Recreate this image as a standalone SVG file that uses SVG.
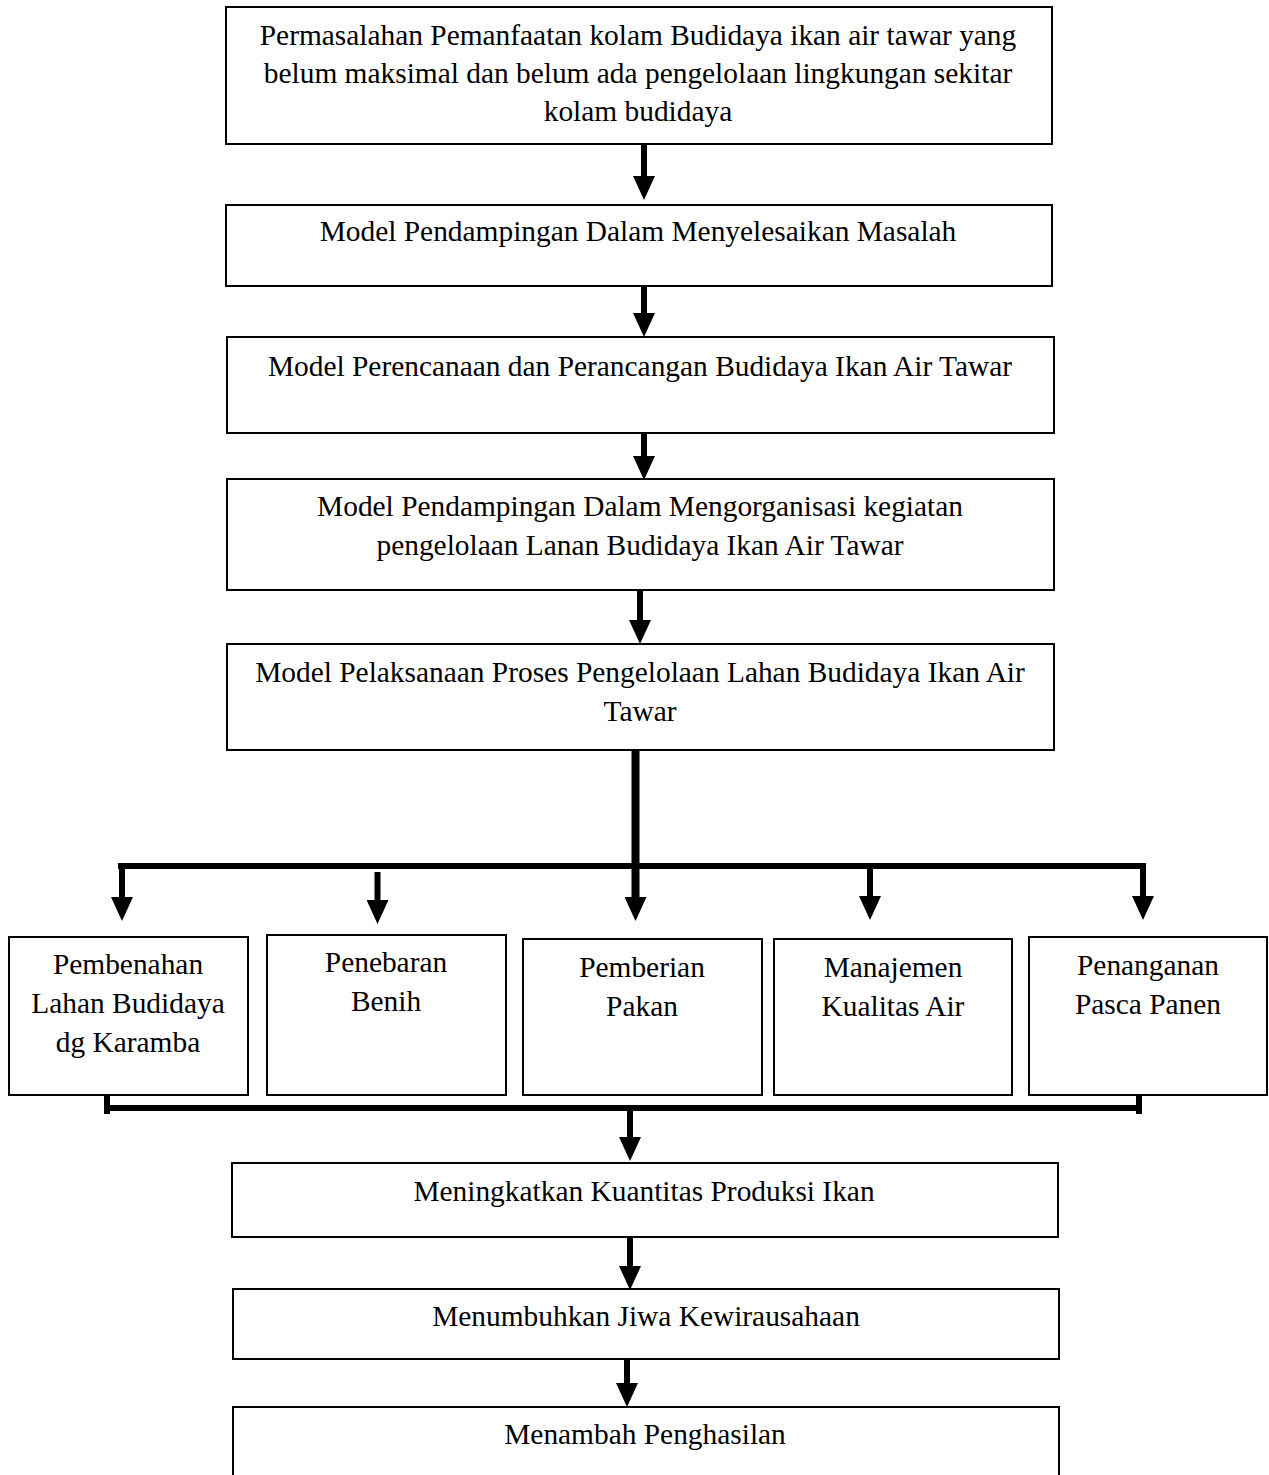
<svg xmlns="http://www.w3.org/2000/svg" width="1269" height="1475" viewBox="0 0 1269 1475">
<style>
.box{fill:#fff;stroke:#000;stroke-width:2}
.t{font-family:"Liberation Serif","Times New Roman",serif;font-size:29.4px;fill:#000;text-anchor:middle}
.c{stroke:#000;stroke-width:6;fill:none}
</style>
<defs>
<marker id="ah" viewBox="0 0 24 22" markerWidth="24" markerHeight="22" refX="0" refY="11" orient="auto" markerUnits="userSpaceOnUse">
<path d="M0,0 L24,11 L0,22 Z" fill="#000"/>
</marker>
</defs>
<rect width="1269" height="1475" fill="#fff"/>
<g id="connectors">
<line class="c" x1="644" y1="144" x2="644" y2="176" marker-end="url(#ah)"/>
<line class="c" x1="644" y1="286" x2="644" y2="313" marker-end="url(#ah)"/>
<line class="c" x1="644" y1="433" x2="644" y2="456" marker-end="url(#ah)"/>
<line class="c" x1="640" y1="590" x2="640" y2="620" marker-end="url(#ah)"/>
<line class="c" x1="635.5" y1="750" x2="635.5" y2="897" marker-end="url(#ah)" style="stroke-width:8"/>
<line class="c" x1="118" y1="866" x2="1146" y2="866"/>
<line class="c" x1="122" y1="866" x2="122" y2="897" marker-end="url(#ah)"/>
<line class="c" x1="377.5" y1="872" x2="377.5" y2="900" marker-end="url(#ah)"/>
<line class="c" x1="870" y1="866" x2="870" y2="896" marker-end="url(#ah)"/>
<line class="c" x1="1143" y1="866" x2="1143" y2="896" marker-end="url(#ah)"/>
<line class="c" x1="107" y1="1095" x2="107" y2="1114"/>
<line class="c" x1="1139" y1="1095" x2="1139" y2="1114"/>
<line class="c" x1="104" y1="1108" x2="1142" y2="1108"/>
<line class="c" x1="630" y1="1108" x2="630" y2="1137" marker-end="url(#ah)"/>
<line class="c" x1="630" y1="1237" x2="630" y2="1266" marker-end="url(#ah)"/>
<line class="c" x1="627" y1="1356" x2="627" y2="1383" marker-end="url(#ah)"/>
</g>
<g id="n1"><rect class="box" x="226" y="7" width="826" height="137"/>
<text class="t" x="638" y="45">Permasalahan Pemanfaatan kolam Budidaya ikan air tawar yang</text>
<text class="t" x="638" y="83">belum maksimal dan belum ada pengelolaan lingkungan sekitar</text>
<text class="t" x="638" y="121">kolam budidaya</text></g>
<g id="n2"><rect class="box" x="226" y="205" width="826" height="81"/>
<text class="t" x="638" y="241">Model Pendampingan Dalam Menyelesaikan Masalah</text></g>
<g id="n3"><rect class="box" x="227" y="337" width="827" height="96"/>
<text class="t" x="640" y="376">Model Perencanaan dan Perancangan Budidaya Ikan Air Tawar</text></g>
<g id="n4"><rect class="box" x="227" y="479" width="827" height="111"/>
<text class="t" x="640" y="516">Model Pendampingan Dalam Mengorganisasi kegiatan</text>
<text class="t" x="640" y="555">pengelolaan Lanan Budidaya Ikan Air Tawar</text></g>
<g id="n5"><rect class="box" x="227" y="644" width="827" height="106"/>
<text class="t" x="640" y="682">Model Pelaksanaan Proses Pengelolaan Lahan Budidaya Ikan Air</text>
<text class="t" x="640" y="721">Tawar</text></g>
<g id="nA"><rect class="box" x="9" y="937" width="239" height="158"/>
<text class="t" x="128" y="974">Pembenahan</text>
<text class="t" x="128" y="1013">Lahan Budidaya</text>
<text class="t" x="128" y="1052">dg Karamba</text></g>
<g id="nB"><rect class="box" x="267" y="935" width="239" height="160"/>
<text class="t" x="386" y="972">Penebaran</text>
<text class="t" x="386" y="1011">Benih</text></g>
<g id="nC"><rect class="box" x="523" y="939" width="239" height="156"/>
<text class="t" x="642" y="977">Pemberian</text>
<text class="t" x="642" y="1016">Pakan</text></g>
<g id="nD"><rect class="box" x="774" y="939" width="238" height="156"/>
<text class="t" x="893" y="977">Manajemen</text>
<text class="t" x="893" y="1016">Kualitas Air</text></g>
<g id="nE"><rect class="box" x="1029" y="937" width="238" height="158"/>
<text class="t" x="1148" y="975">Penanganan</text>
<text class="t" x="1148" y="1014">Pasca Panen</text></g>
<g id="nF"><rect class="box" x="232" y="1163" width="826" height="74"/>
<text class="t" x="644" y="1201">Meningkatkan Kuantitas Produksi Ikan</text></g>
<g id="nG"><rect class="box" x="233" y="1289" width="826" height="70"/>
<text class="t" x="646" y="1326">Menumbuhkan Jiwa Kewirausahaan</text></g>
<g id="nH"><rect class="box" x="233" y="1407" width="826" height="80"/>
<text class="t" x="645" y="1444">Menambah Penghasilan</text></g>
</svg>
